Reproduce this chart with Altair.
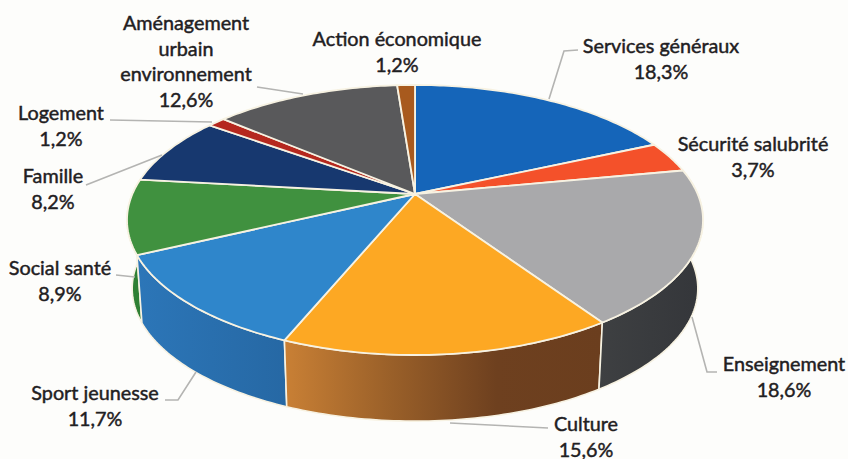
import math
import altair as alt

# Budget shares, clockwise from twelve o'clock
categories = ["Services généraux", "Sécurité salubrité", "Enseignement", "Culture",
              "Sport jeunesse", "Social santé", "Famille", "Logement",
              "Aménagement urbain environnement", "Action économique"]
shares = [18.3, 3.7, 18.6, 15.6, 11.7, 8.9, 8.2, 1.2, 12.6, 1.2]
face_colors = ["#1565B9", "#F4512A", "#A9A9AB", "#FDA823", "#2F86CB",
               "#40913F", "#17386F", "#B5281E", "#59595B", "#A85A1E"]
rim_colors = {"Enseignement": ["#3E4042", "#34363A"],
              "Culture": ["#C98035", "#9A6029", "#6E401F", "#6B3E1E"],
              "Sport jeunesse": ["#2C76B8", "#2668A4"],
              "Social santé": ["#2F7F33", "#2F7F33"]}

# Label lines and their placement (centre x, middle y)
label_lines = {
    "Services généraux": ["Services généraux", "18,3%"],
    "Sécurité salubrité": ["Sécurité salubrité", "3,7%"],
    "Enseignement": ["Enseignement", "18,6%"],
    "Culture": ["Culture", "15,6%"],
    "Sport jeunesse": ["Sport jeunesse", "11,7%"],
    "Social santé": ["Social santé", "8,9%"],
    "Famille": ["Famille", "8,2%"],
    "Logement": ["Logement", "1,2%"],
    "Aménagement urbain environnement": ["Aménagement", "urbain", "environnement", "12,6%"],
    "Action économique": ["Action économique", "1,2%"],
}
label_anchor = {
    "Services généraux": (661, 47), "Sécurité salubrité": (753, 145),
    "Enseignement": (784, 365), "Culture": (586, 425),
    "Sport jeunesse": (95, 394), "Social santé": (60, 269),
    "Famille": (53, 177), "Logement": (61, 114),
    "Aménagement urbain environnement": (186, 24), "Action économique": (397, 40),
}
line_step = 25.5
leaders = [
    [(549, 99), (564, 51), (578, 50)],
    [(257, 87), (303, 94)],
    [(110, 120), (212, 122)],
    [(86, 185), (162, 155)],
    [(116, 275), (135, 277)],
    [(165, 400), (178, 400), (196, 372)],
    [(717, 372), (707, 372), (692, 317)],
    [(450, 423), (548, 428)],
]

# Perspective disc: centre, radii, foreshortening, and the lower rim's offset
CX, CY, RX, RY, K = 415.0, 194.0, 282.6, 130.0, 0.1926
RIM_SCALE, RIM_CY = 0.982, 263.0


def project(theta, scale=1.0, cy=CY):
    u, v = math.sin(theta), math.cos(theta)
    w = 1 + K * v
    return [CX + scale * RX * u / w, cy - scale * RY * v / w]


def arc_thetas(a, b):
    n = max(2, int(abs(b - a) / math.radians(1)) + 1)
    return [a + (b - a) * i / n for i in range(n + 1)]


def polygon(name, coords, **extra):
    ring = coords + [coords[0]]
    return {"type": "Feature", "name": name, **extra,
            "geometry": {"type": "Polygon", "coordinates": [ring]}}


total = sum(shares)
bounds = [0.0]
for s in shares:
    bounds.append(bounds[-1] + s / total * 2 * math.pi)
spans = dict(zip(categories, zip(bounds[:-1], bounds[1:])))

faces = []
for name, color, (a, b) in zip(categories, face_colors, spans.values()):
    pts = [[CX, CY]] + [project(t) for t in arc_thetas(a, b)]
    faces.append(polygon(name, pts, fill=color))

PIXELS = dict(type="identity", scale=1, translate=[0, 0])
EDGE = "#F7F2E2"


def rim_layer(name):
    a, b = spans[name]
    ts = arc_thetas(a, b)
    upper = [project(t) for t in ts]
    lower = [project(t, RIM_SCALE, RIM_CY) for t in reversed(ts)]
    colors = rim_colors[name]
    gradient = alt.LinearGradient(
        gradient="linear", x1=0, x2=1, y1=0, y2=0,
        stops=[alt.GradientStop(color=c, offset=i / (len(colors) - 1))
               for i, c in enumerate(colors)])
    return alt.Chart(alt.Data(values=[polygon(name, upper + lower)])).mark_geoshape(
        fill=gradient, stroke=EDGE, strokeWidth=1.6).project(**PIXELS)


rims = [rim_layer(n) for n in ["Social santé", "Sport jeunesse", "Culture", "Enseignement"]]

top = alt.Chart(alt.Data(values=faces)).mark_geoshape(
    stroke=EDGE, strokeWidth=1.8, strokeJoin="round"
).encode(fill=alt.Fill("fill:N", scale=None, legend=None)).project(**PIXELS)

leader_features = [{"type": "Feature", "name": str(i),
                    "geometry": {"type": "LineString", "coordinates": [list(p) for p in pts]}}
                   for i, pts in enumerate(leaders)]
leader_layer = alt.Chart(alt.Data(values=leader_features)).mark_geoshape(
    filled=False, stroke="#B4B4B2", strokeWidth=1.6).project(**PIXELS)

label_rows = []
for name in categories:
    x0, y0 = label_anchor[name]
    for i, line in enumerate(label_lines[name]):
        label_rows.append({"px": x0, "py": y0 + i * line_step, "line": line})

text = alt.Chart(alt.Data(values=label_rows)).mark_text(
    font="Lato", fontSize=19.8, color="#1F2022", stroke="#1F2022", strokeWidth=0.45,
    align="center", baseline="middle"
).encode(
    x=alt.X("px:Q", scale=None, axis=None),
    y=alt.Y("py:Q", scale=None, axis=None),
    text="line:N",
)

chart = alt.layer(*rims, top, leader_layer, text).properties(
    width=848, height=459, padding=0, background="#FDFDFB",
    autosize=alt.AutoSizeParams(type="none"),
).configure_view(stroke=None)

chart.save("out.html", embed_options={"renderer": "svg", "actions": False})
